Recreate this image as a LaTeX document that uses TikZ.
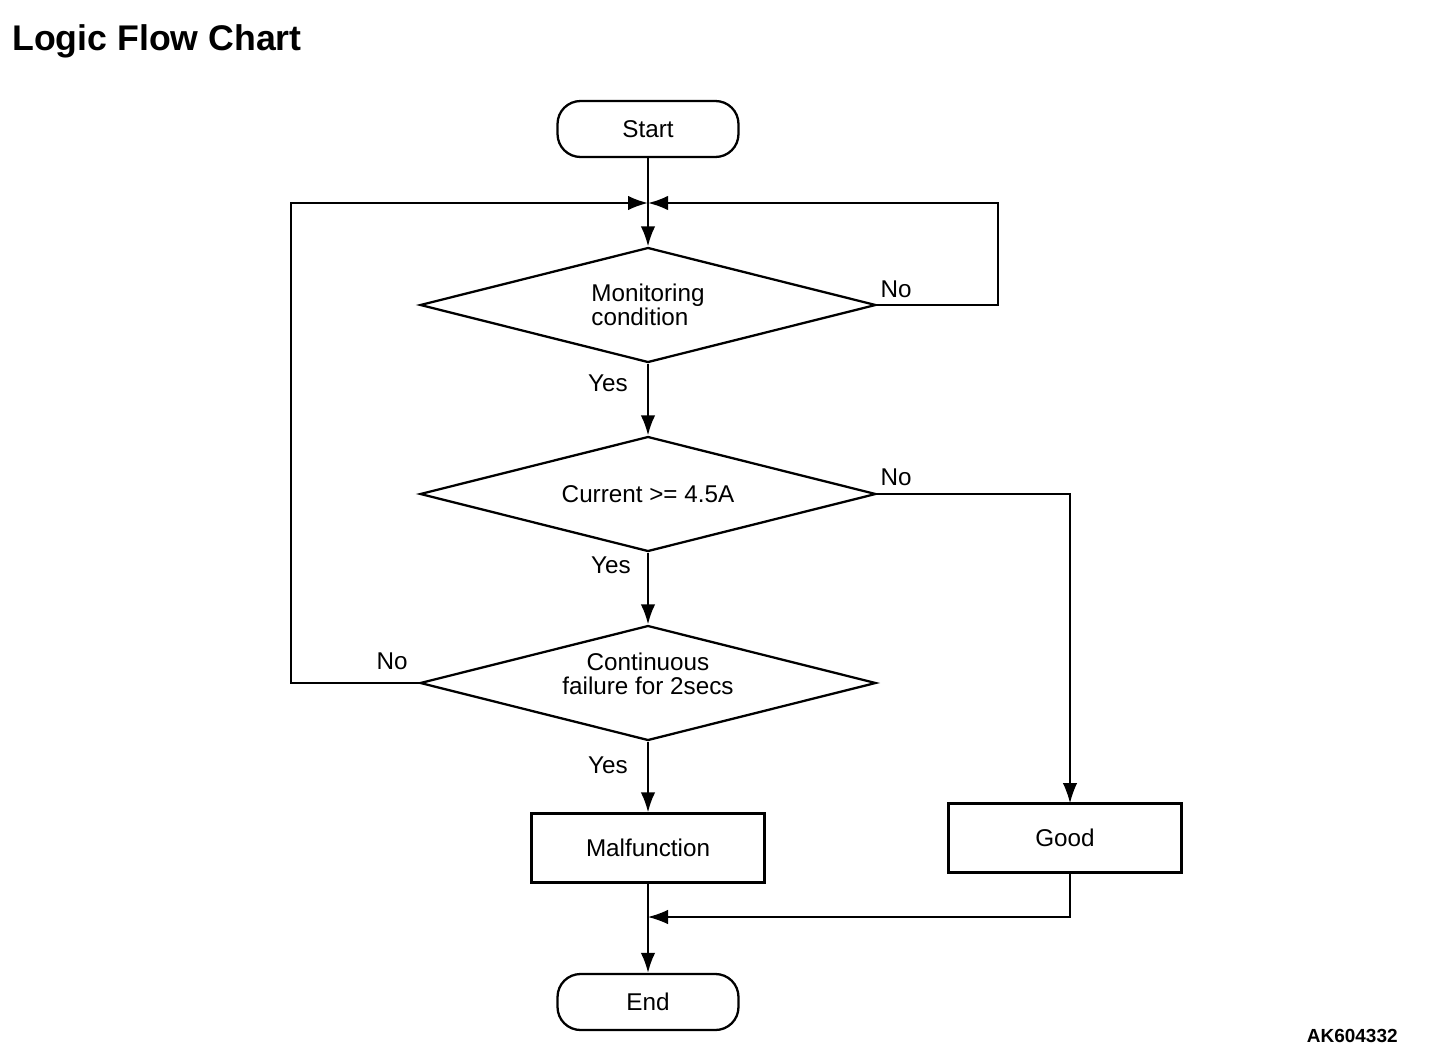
\documentclass[tikz,border=0pt]{standalone}
\usepackage{fontspec}
\setmainfont{Liberation Sans}
\usetikzlibrary{shapes.geometric,arrows.meta}
\tikzset{
  >={Latex[length=4mm,width=2.9mm]},
}
\tikzstyle{every node}=[font=\fontsize{13.8}{13.6}\selectfont]
\tikzstyle{term}=[draw,line width=1.3pt,rounded corners=.46cm,minimum width=3.62cm,minimum height=1.12cm]
\tikzstyle{decision}=[draw,diamond,line width=1.3pt,minimum width=9.12cm,minimum height=2.3cm,inner sep=0pt,aspect=4]
\tikzstyle{process}=[draw,line width=1.3pt,minimum width=4.66cm,minimum height=1.38cm]
\tikzstyle{flow}=[line width=1.2pt,->]
\tikzstyle{side}=[line width=.7pt]

\begin{document}
\begin{tikzpicture}[x=.02cm,y=-.02cm]
  \useasboundingbox (0,0) rectangle (1440,1058);
  \node[anchor=base west,inner sep=0pt,font=\fontsize{20.3}{24}\selectfont\bfseries] (title) at (12,51) {Logic Flow Chart};
  \node[anchor=base east,inner sep=0pt,font=\fontsize{10.8}{12}\selectfont\bfseries] (code) at (1398,1042) {AK604332};

  \node[term] (start) at (648,129) {Start};
  \node[decision,align=left] (mon) at (648,305) {Monitoring\\condition};
  \node[decision] (cur) at (648,494) {Current >= 4.5A};
  \node[decision,align=center,text depth=.38cm] (fail) at (648,683) {Continuous\\failure for 2secs};
  \node[process] (malf) at (648,848) {Malfunction};
  \node[process] (good) at (1065,838) {Good};
  \node[term] (end) at (648,1002) {End};

  % yes / no labels
  \node (no1) at (896,289) {No};
  \node (yes1) at (608,383) {Yes};
  \node (no2) at (896,477) {No};
  \node (yes2) at (611,565) {Yes};
  \node (no3) at (392,661) {No};
  \node (yes3) at (608,765) {Yes};

  \coordinate (join) at (648,203);
  \coordinate (monr) at (998,203);
  \coordinate (faill) at (291,203);
  \coordinate (goodin) at (1070,803);
  \coordinate (merge) at (648,917);

  \draw[line width=1.2pt] (start) -- (join);
  \draw[flow] (join) -- (mon);
  \draw[flow] (mon.east) -| (monr) -- (join);
  \draw[flow] (fail.west) -| (faill) -- (join);
  \draw[flow] (mon) -- (cur);
  \draw[flow] (cur) -- (fail);
  \draw[flow] (fail) -- (malf);
  \draw[side,->] (cur.east) -| (goodin);
  \draw[line width=1.2pt] (malf) -- (merge);
  \draw[side,->] (goodin |- good.south) |- (merge);
  \draw[flow] (merge) -- (end);
\end{tikzpicture}
\end{document}
